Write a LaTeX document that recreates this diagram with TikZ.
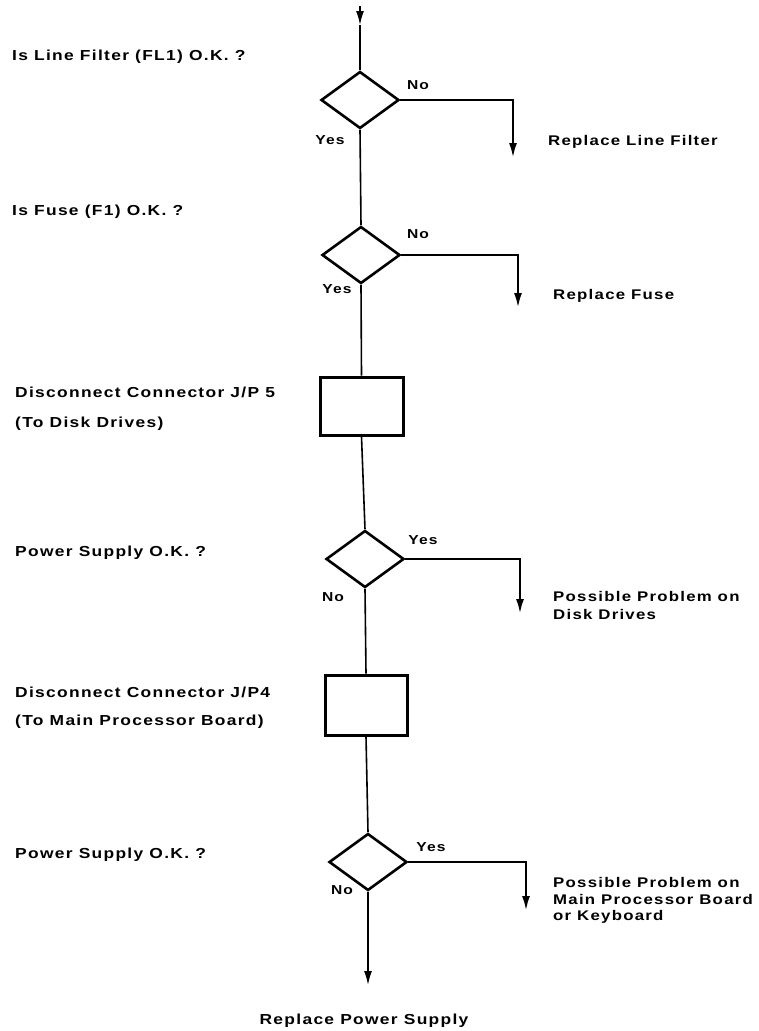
\documentclass[tikz,border=0pt]{standalone}
\usepackage{fontspec}
\setmainfont{Liberation Sans}
\newfontfamily\chartfont[FakeStretch=1.2,LetterSpace=9]{Liberation Sans Bold}
\usetikzlibrary{shapes.geometric,arrows.meta}
\begin{document}
\begin{tikzpicture}[x=1pt,y=-1pt,
  decision/.style={draw,diamond,line width=2.6pt,inner sep=0pt,minimum width=78pt,minimum height=57pt},
  actionbox/.style={draw,rectangle,line width=3pt,inner sep=0pt},
  link/.style={line width=1.6pt},
  arr/.style={line width=1.6pt,-{Latex[length=14pt,width=8pt]}},
  txt/.style={anchor=west,inner sep=0pt,font=\chartfont\fontsize{14.5}{17}\selectfont},
  rtxt/.style={anchor=west,inner sep=0pt,font=\chartfont\fontsize{14}{17}\selectfont},
  ans/.style={anchor=center,inner sep=0pt,font=\chartfont\fontsize{13}{15}\selectfont}]
\useasboundingbox (0,0) rectangle (759,1031);
\fill[white] (0,0) rectangle (759,1031);

% shapes
\node[decision] (d1) at (360,100) {};
\node[decision] (d2) at (361,255) {};
\node[actionbox,minimum width=83pt,minimum height=58pt] (b1) at (361.5,406) {};
\node[decision] (d3) at (365,559) {};
\node[actionbox,minimum width=82pt,minimum height=60pt] (b2) at (366,705) {};
\node[decision] (d4) at (368,862) {};

% coordinates
\coordinate (top) at (360,6);
\coordinate (topb) at (360,25);
\coordinate (c1) at (513,100);
\coordinate (e1) at (513,157);
\coordinate (c2) at (518,255);
\coordinate (e2) at (518,307);
\coordinate (c3) at (520,559);
\coordinate (e3) at (520,613);
\coordinate (c4) at (526,862);
\coordinate (e4) at (526,910);
\coordinate (e5) at (368,985);

% connectors
\draw[arr] (top) -- (topb);
\draw[link] (topb) -- (d1.north);
\draw[arr] (d1.east) -- (c1) -- (e1);
\draw[link] (d1.south) -- (d2.north);
\draw[arr] (d2.east) -- (c2) -- (e2);
\draw[link] (d2.south) -- (b1.north);
\draw[link] (b1.south) -- (d3.north);
\draw[arr] (d3.east) -- (c3) -- (e3);
\draw[link] (d3.south) -- (b2.north);
\draw[link] (b2.south) -- (d4.north);
\draw[arr] (d4.east) -- (c4) -- (e4);
\draw[arr] (d4.south) -- (e5);

% answer labels
\node[ans] (n1) at (418,85) {No};
\node[ans] (y1) at (330,140) {Yes};
\node[ans] (n2) at (418,234) {No};
\node[ans] (y2) at (337,289) {Yes};
\node[ans] (y3) at (423,540) {Yes};
\node[ans] (n3) at (333,597) {No};
\node[ans] (y4) at (431,847) {Yes};
\node[ans] (n4) at (342,890) {No};

% left texts
\node[txt] (t1) at (12,57) {Is Line Filter (FL1) O.K. ?};
\node[txt] (t2) at (12,212) {Is Fuse (F1) O.K. ?};
\node[txt] (t3a) at (15,392) {Disconnect Connector J/P 5};
\node[txt] (t3b) at (15,424) {(To Disk Drives)};
\node[txt] (t4) at (15,553) {Power Supply O.K. ?};
\node[txt] (t5a) at (15,692) {Disconnect Connector J/P4};
\node[txt] (t5b) at (15,722) {(To Main Processor Board)};
\node[txt] (t6) at (15,855) {Power Supply O.K. ?};

% right texts
\node[rtxt] (r1) at (548,142) {Replace Line Filter};
\node[rtxt] (r2) at (553,296) {Replace Fuse};
\node[rtxt] (r3a) at (553,596) {Possible Problem on};
\node[rtxt] (r3b) at (553,614) {Disk Drives};
\node[rtxt] (r4a) at (553,882) {Possible Problem on};
\node[rtxt] (r4b) at (553,899) {Main Processor Board};
\node[rtxt] (r4c) at (553,917) {or Keyboard};
\node[txt,anchor=center] (r5) at (364,1021) {Replace Power Supply};
\end{tikzpicture}
\end{document}
